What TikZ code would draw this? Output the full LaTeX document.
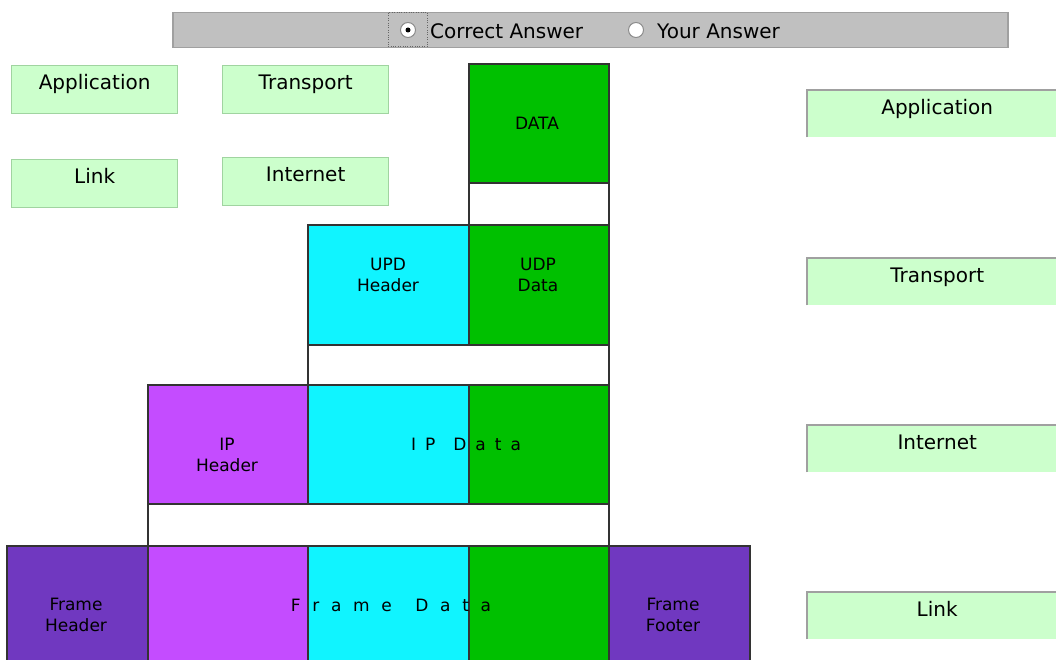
\documentclass[tikz,border=0pt]{standalone}
\usepackage{fontspec}
\setmainfont{DejaVu Sans}
\definecolor{datagreen}{HTML}{00C000}
\definecolor{udpcyan}{HTML}{10F4FF}
\definecolor{ipviolet}{HTML}{C44CFF}
\definecolor{framepurple}{HTML}{7038C0}
\definecolor{tagfill}{HTML}{CCFFCC}
\definecolor{tagline}{HTML}{A0D4A0}
\definecolor{barfill}{HTML}{C0C0C0}
\definecolor{barline}{HTML}{A0A0A0}
\newcommand\lsp{\hspace{9pt}}
\newcommand\wsp{\hspace{11.7pt}}
\tikzset{
  seg/.style={draw=black!80, line width=1.8pt, anchor=north west, inner sep=0pt},
  segtext/.style={align=center, font=\fontsize{17}{21}\selectfont},
  tag/.style={draw=tagline, fill=tagfill, line width=1.3pt, anchor=north west, minimum width=166pt, minimum height=48pt},
  slot/.style={fill=tagfill, anchor=north west, minimum width=260pt, minimum height=47pt},
  tagtext/.style={anchor=north, yshift=-6pt, font=\fontsize{20}{24}\selectfont},
  radio/.style={circle, draw=black!45, fill=white, line width=1pt, minimum size=15pt, inner sep=0pt},
}
\begin{document}
\begin{tikzpicture}[x=1pt, y=-1pt]
\useasboundingbox (0,0) rectangle (1056,660);
\clip (0,0) rectangle (1056,660);
% answer bar
\node[draw=barline, fill=barfill, line width=1.5pt, anchor=north west, minimum width=835pt, minimum height=35pt] (bar) at (172,12) {};
\node[draw=black!60, dotted, anchor=north west, minimum width=39pt, minimum height=34pt] (focus) at (388,12) {};
\node[radio] (rcorrect) at (408,30) {};
\fill (rcorrect.center) circle (2.5);
\node[anchor=west, inner sep=0pt, font=\fontsize{20}{24}\selectfont] (tcorrect) at (430,31) {Correct Answer};
\node[radio] (ryour) at (636,30) {};
\node[anchor=west, inner sep=0pt, font=\fontsize{20}{24}\selectfont] (tyour) at (657,31) {Your Answer};
% loose tags
\node[tag, label={[tagtext]north:Application}] (appL) at (11,65) {};
\node[tag, label={[tagtext]north:Transport}] (traL) at (222,65) {};
\node[tag, label={[tagtext]north:Link}] (linkL) at (11,159) {};
\node[tag, label={[tagtext]north:Internet}] (intL) at (222,157) {};
% drop slots
\node[slot, label={[tagtext]north:Application}] (appR) at (807,90) {};
\node[slot, label={[tagtext]north:Transport}] (traR) at (807,258) {};
\node[slot, label={[tagtext]north:Internet}] (intR) at (807,425) {};
\node[slot, label={[tagtext]north:Link}] (linkR) at (807,592) {};
\foreach \s in {appR, traR, intR, linkR}
  \draw[barline, line width=2pt] (\s.south west) -- (\s.north west) -- (\s.north east);
% application layer
\node[seg, fill=datagreen, minimum width=140pt, minimum height=119pt] (data) at (468,63) {};
\node[seg, fill=white, minimum width=140pt, minimum height=42pt] (gapA) at (468,182) {};
\node[segtext] (tdata) at (537,123) {DATA};
% transport layer
\node[seg, fill=udpcyan, minimum width=161pt, minimum height=120pt] (udphdr) at (307,224) {};
\node[seg, fill=datagreen, minimum width=140pt, minimum height=120pt] (udpdata) at (468,224) {};
\node[seg, fill=white, minimum width=301pt, minimum height=40pt] (gapT) at (307,344) {};
\node[segtext] (tudphdr) at (388,275) {UPD\\Header};
\node[segtext] (tudpdata) at (538,275) {UDP\\Data};
% internet layer
\node[seg, fill=ipviolet, minimum width=160pt, minimum height=119pt] (iphdr) at (147,384) {};
\node[seg, fill=udpcyan, minimum width=161pt, minimum height=119pt] (ipudp) at (307,384) {};
\node[seg, fill=datagreen, minimum width=140pt, minimum height=119pt] (ipdata) at (468,384) {};
\node[seg, fill=white, minimum width=461pt, minimum height=42pt] (gapI) at (147,503) {};
\node[segtext] (tiphdr) at (227,455) {IP\\Header};
\node[segtext] (tipdata) at (466,444) {I\lsp P\lsp\lsp D\lsp a\lsp t\lsp a};
% link layer
\node[seg, fill=framepurple, minimum width=141pt, minimum height=130pt] (framehdr) at (6,545) {};
\node[seg, fill=ipviolet, minimum width=160pt, minimum height=130pt] (frip) at (147,545) {};
\node[seg, fill=udpcyan, minimum width=161pt, minimum height=130pt] (frudp) at (307,545) {};
\node[seg, fill=datagreen, minimum width=140pt, minimum height=130pt] (frdata) at (468,545) {};
\node[seg, fill=framepurple, minimum width=141pt, minimum height=130pt] (framefoot) at (608,545) {};
\node[segtext] (tframehdr) at (76,615) {Frame\\Header};
\node[segtext] (tframefoot) at (673,615) {Frame\\Footer};
\node[segtext] (tframedata) at (391,605) {F\wsp r\wsp a\wsp m\wsp e\wsp\wsp D\wsp a\wsp t\wsp a};
\end{tikzpicture}
\end{document}
